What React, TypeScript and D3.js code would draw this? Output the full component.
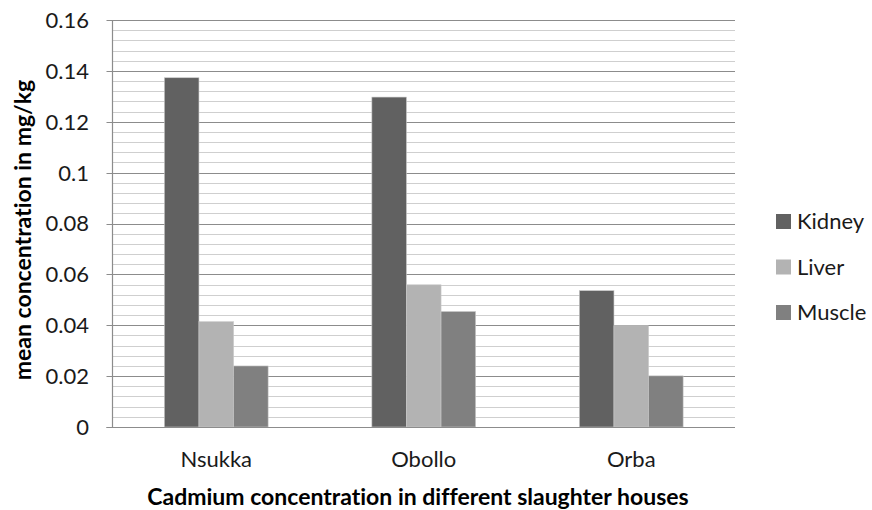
import React from "react";
import * as d3 from "d3";

const categories = ["Nsukka", "Obollo", "Orba"];
const seriesNames = ["Kidney", "Liver", "Muscle"];
const kidney = [0.1373, 0.1297, 0.0536];
const liver = [0.0414, 0.0559, 0.0398];
const muscle = [0.0240, 0.0454, 0.0201];
const seriesValues = [kidney, liver, muscle];
const seriesColors = ["#616161", "#b3b3b3", "#808080"];
const yTicks = [0, 0.02, 0.04, 0.06, 0.08, 0.1, 0.12, 0.14, 0.16];
const yTitle = "mean concentration in mg/kg";
const xTitle = "Cadmium concentration in different slaughter houses";

const W = 872;
const H = 510;
const plot = { left: 112.5, right: 735, top: 20, bottom: 427 };
const FONT = "Lato, 'Open Sans', sans-serif";

export default function App() {
  const y = d3.scaleLinear().domain([0, 0.16]).range([plot.bottom, plot.top]);
  const x0 = d3.scaleBand().domain(categories).range([plot.left, plot.right]).paddingInner(0).paddingOuter(0);
  const x1 = d3
    .scaleBand()
    .domain(seriesNames)
    .range([0, x0.bandwidth()])
    .paddingInner(0)
    .paddingOuter(1.5);
  const minor = d3.range(0, 0.16 + 1e-9, 0.004);

  return (
    <svg width={W} height={H} style={{ position: "absolute", left: 0, top: 0, fontVariantLigatures: "none" }}>
      <rect x={0} y={0} width={W} height={H} fill="#fff" />
      {minor.map((v, i) => {
        const isMajor = i % 5 === 0;
        if (isMajor) return null;
        return (
          <line key={"m" + i} x1={plot.left} x2={plot.right} y1={Math.round(y(v)) + 0.5} y2={Math.round(y(v)) + 0.5} stroke="#cfcfcf" strokeWidth={1.2} />
        );
      })}
      {yTicks.map((v, i) => (
        <line key={"g" + i} x1={plot.left - 6} x2={plot.right} y1={Math.round(y(v)) + 0.5} y2={Math.round(y(v)) + 0.5} stroke="#8c8c8c" strokeWidth={1.2} />
      ))}
      {yTicks.map((v, i) => (
        <text key={"t" + i} x={89} y={y(v)} dy="0.36em" textAnchor="end" fontFamily={FONT} fontSize={22} fill="#1a1a1a">
          {d3.format("")(+v.toFixed(2))}
        </text>
      ))}
      <line x1={plot.left} x2={plot.left} y1={plot.top} y2={plot.bottom} stroke="#8c8c8c" strokeWidth={1.2} />
      {categories.map((c, ci) => (
        <g key={c} transform={`translate(${x0(c)},0)`}>
          {seriesNames.map((s, si) => {
            const v = seriesValues[si][ci];
            return (
              <rect
                key={s}
                x={x1(s)}
                y={y(v)}
                width={x1.bandwidth()}
                height={plot.bottom - y(v)}
                fill={seriesColors[si]}
                stroke="#c8c8c8"
                strokeWidth={0.6}
              />
            );
          })}
        </g>
      ))}
      <line x1={plot.left - 6} x2={plot.right} y1={plot.bottom + 0.5} y2={plot.bottom + 0.5} stroke="#8c8c8c" strokeWidth={1.2} />
      {categories.map((c) => (
        <text key={c} x={(x0(c) as number) + x0.bandwidth() / 2} y={467} textAnchor="middle" fontFamily={FONT} fontSize={22} fill="#1a1a1a">
          {c}
        </text>
      ))}
      <text x={418} y={505} textAnchor="middle" fontFamily={FONT} fontSize={23} fontWeight="bold" fill="#000">
        {xTitle}
      </text>
      <text transform={`translate(31,230) rotate(-90)`} textAnchor="middle" fontFamily={FONT} fontSize={23} fontWeight="bold" fill="#000">
        {yTitle}
      </text>
      {seriesNames.map((s, i) => (
        <g key={s} transform={`translate(776,${221.5 + i * 45.5})`}>
          <rect x={0} y={-7.5} width={15} height={15} fill={seriesColors[i]} />
          <text x={21} y={0} dy="0.36em" fontFamily={FONT} fontSize={22} fill="#1a1a1a">
            {s}
          </text>
        </g>
      ))}
    </svg>
  );
}
